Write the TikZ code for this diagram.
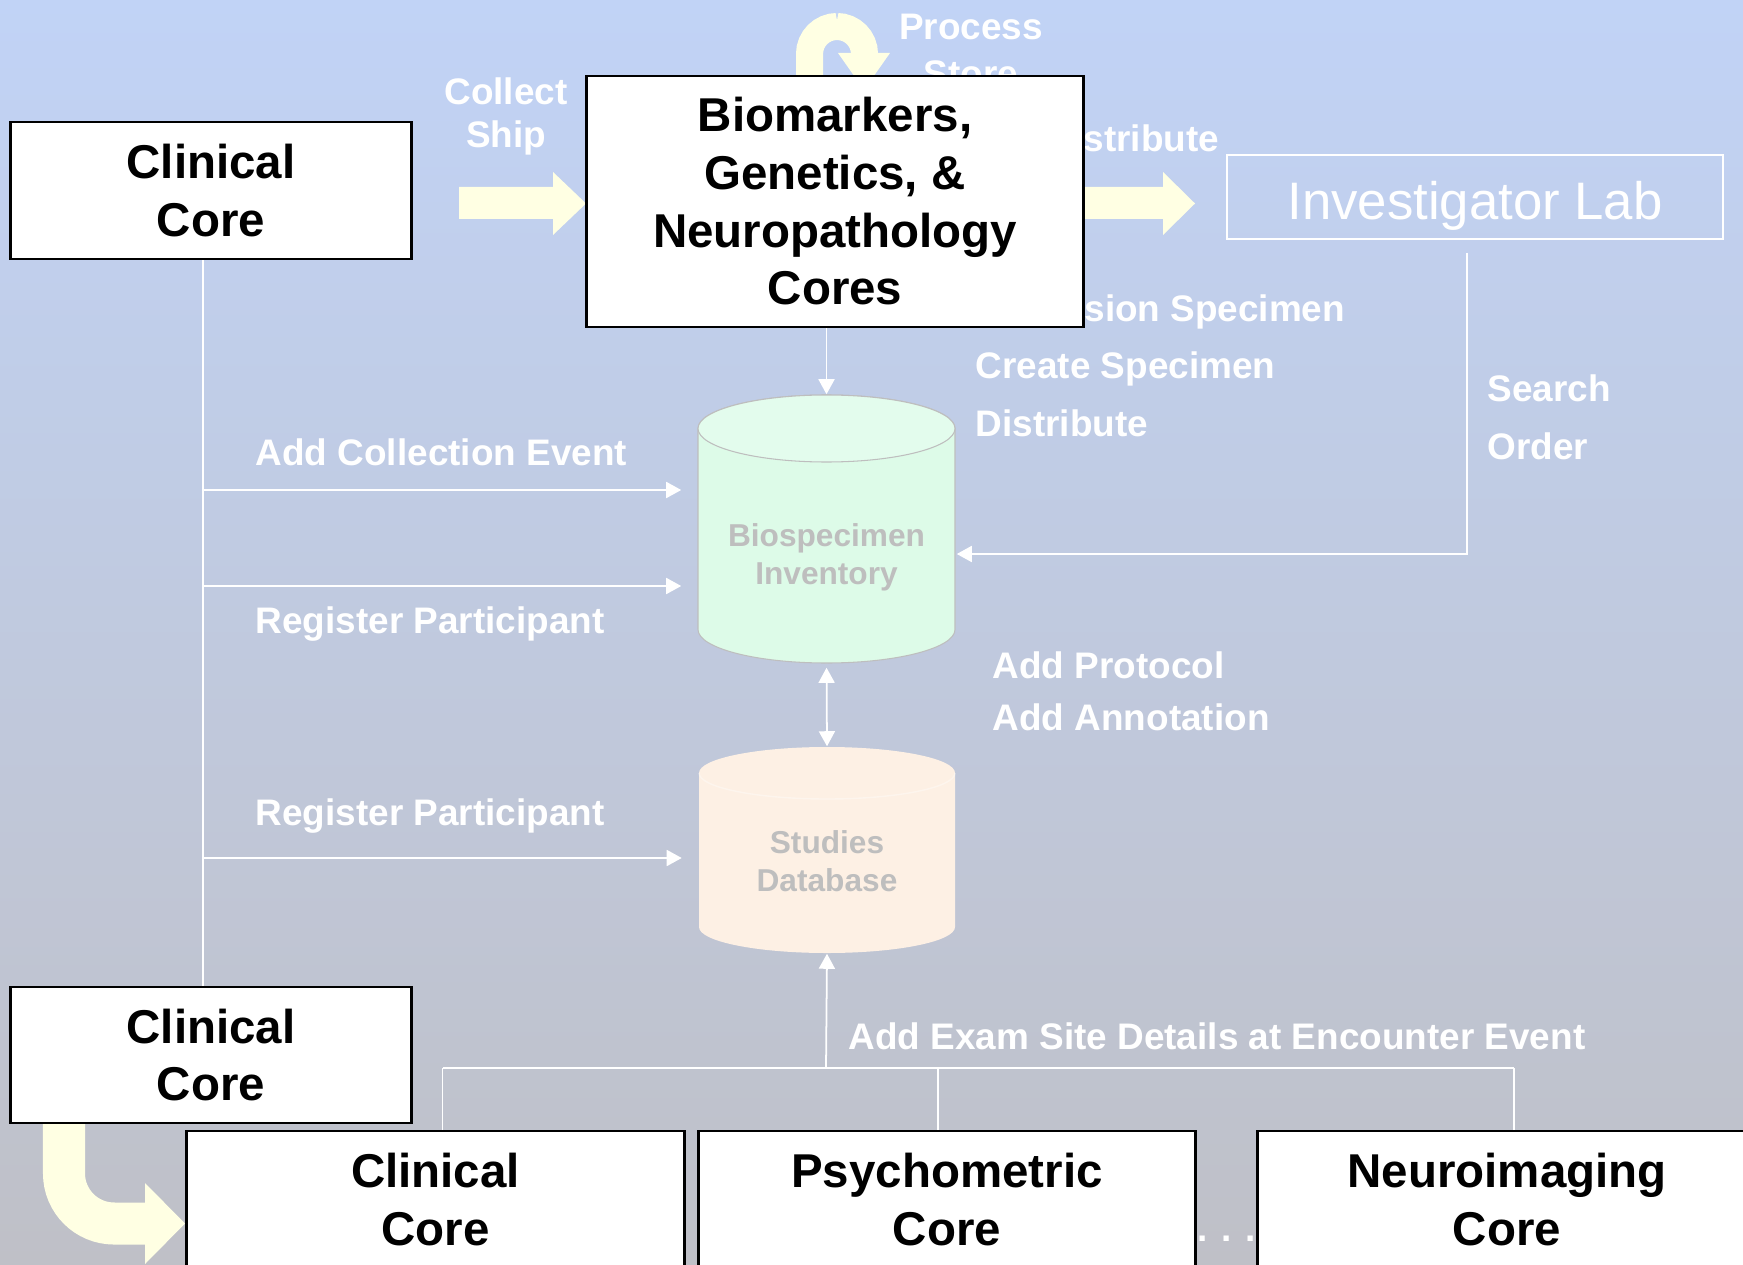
\documentclass[tikz,border=0pt]{standalone}
\usepackage{fontspec}
\setmainfont{Liberation Sans}
\usetikzlibrary{arrows.meta}
\definecolor{bgtop}{RGB}{193,211,246}
\definecolor{bgmid}{RGB}{191,201,231}
\definecolor{bgbot}{RGB}{191,192,199}
\definecolor{paleyellow}{RGB}{255,255,227}
\definecolor{mint}{RGB}{221,251,232}
\definecolor{minttop}{RGB}{227,252,237}
\definecolor{peach}{RGB}{253,240,228}
\definecolor{peachtop}{RGB}{254,243,234}
\definecolor{dbgray}{RGB}{190,190,190}
\tikzset{
    % Boxes
    core box/.style={draw=black,line width=0.8pt,fill=white,align=center,inner sep=0pt,
        font=\fontsize{13.5}{16.4}\selectfont\bfseries,minimum width=#1,minimum height=1.37cm},
    lab box/.style={draw=white,line width=0.6pt,text=white,inner sep=0pt,text height=12.6pt,text depth=0pt,
        minimum width=4.96cm,minimum height=0.84cm,font=\fontsize{15}{18}\selectfont},
    db box/.style={inner sep=0pt,minimum width=2.57cm,minimum height=#1},
    db text/.style={text=dbgray,align=center,font=\fontsize{9}{10.8}\selectfont\bfseries},
    %
    % Labels
    lbl/.style={text=white,inner sep=0pt,anchor=base west,font=\fontsize{10.5}{12.6}\selectfont\bfseries},
    %
    % Connectors
    arrow tip/.tip={Triangle[length=1.5mm,width=1.6mm]},
    wire/.style={white,line width=0.5pt},
    conn/.style={wire,-{arrow tip}},
    dconn/.style={wire,{arrow tip}-{arrow tip}},
    fat/.style={paleyellow}
}
\begin{document}
\begin{tikzpicture}[x=0.01cm,y=-0.01cm]
    \useasboundingbox (0,0) rectangle (1743,1264);
    \clip (0,0) rectangle (1743,1264);
    \shade[top color=bgtop,middle color=bgmid,bottom color=bgbot] (0,0) rectangle (1743,1264);

    % yellow block arrows
    \fill[fat] (459,187) -- (553,187) -- (553,172) -- (586,203.5) -- (553,235) -- (553,219) -- (459,219) -- cycle;
    \fill[fat] (1080,187) -- (1163,187) -- (1163,172) -- (1195,203.5) -- (1163,235) -- (1163,219) -- (1080,219) -- cycle;
    \draw[fat,line width=0.27cm,rounded corners=0.275cm] (809.5,95) -- (809.5,26.5) -- (864.5,26.5) -- (864.5,55);
    \fill[fat] (838,53) -- (890,53) -- (864,90) -- cycle;
    \draw[fat,line width=0.42cm,rounded corners=0.5cm] (64,1115) -- (64,1223.5) -- (147,1223.5);
    \fill[fat] (145,1183) -- (185,1223.5) -- (145,1264) -- cycle;

    % labels partly hidden behind the boxes
    \node[lbl,anchor=base] (process) at (971,40) {Process};
    \node[lbl,anchor=base] (store) at (971,87) {Store};
    \node[lbl] (distr top) at (1046,152) {Distribute};
    \node[lbl] (accession) at (975,322) {Accession Specimen};

    % boxes
    \node[core box=4cm] (clin1) at (211,190.5) {Clinical\\Core};
    \node[core box=4.96cm,minimum height=2.51cm] (biomark) at (835,201.5) {Biomarkers,\\Genetics, \&\\Neuropathology\\Cores};
    \node[lab box] (lab) at (1475,197) {Investigator Lab};
    \node[core box=4cm,minimum height=1.36cm] (clin2) at (211,1055) {Clinical\\Core};
    \node[core box=4.97cm] (clin3) at (435.5,1199.5) {Clinical\\Core};
    \node[core box=4.96cm] (psych) at (947,1199.5) {Psychometric\\Core};
    \node[core box=4.98cm] (neuro) at (1507,1199.5) {Neuroimaging\\Core};
    \node[lbl,anchor=base] (dots) at (1227,1241) {. . .};

    % databases
    \fill[mint,draw=dbgray,line width=0.3pt] (698,428.5) -- (698,629.5) arc[start angle=180,end angle=0,x radius=128.5,y radius=33.5]
        -- (955,428.5) arc[start angle=0,end angle=-180,x radius=128.5,y radius=33.5] -- cycle;
    \filldraw[fill=minttop,draw=dbgray,line width=0.3pt] (826.5,428.5) ellipse[x radius=128.5,y radius=33.5];
    \node[db box=2.68cm] (biodb) at (826.5,529) {};
    \node[db text] (biotext) at (826.5,557) {Biospecimen\\Inventory};

    \fill[peach] (699,773) -- (699,927) arc[start angle=180,end angle=0,x radius=128,y radius=26]
        -- (955,773) arc[start angle=0,end angle=-180,x radius=128,y radius=26] -- cycle;
    \draw[white,opacity=0.35,line width=0.4pt] (699,773) arc[start angle=180,end angle=0,x radius=128,y radius=26];
    \node[db box=2.06cm] (studb) at (827,850) {};
    \node[db text] (studtext) at (827,861) {Studies\\Database};

    % connectors
    \coordinate (spine top) at ([xshift=-0.08cm]clin1.south);
    \coordinate (spine bottom) at ([xshift=-0.08cm]clin2.north);
    \coordinate (ace) at (203,490);
    \coordinate (reg1) at (203,586);
    \coordinate (reg2) at (203,858);
    \draw[wire] (spine top) -- (spine bottom);
    \draw[conn,shorten >=0.16cm] (ace) -- (ace -| biodb.west);
    \draw[conn,shorten >=0.16cm] (reg1) -- (reg1 -| biodb.west);
    \draw[conn,shorten >=0.16cm] (reg2) -- (reg2 -| studb.west);
    \draw[conn] (biomark.south -| biodb.north) -- (biodb.north);
    \draw[dconn,shorten <=0.04cm] (biodb.south) -- (studb.north);
    \draw[conn] ([shift={(-8,13)}]lab.south) |- ([shift={(1,25)}]biodb.east);

    \coordinate (bus mid) at (826,1068);
    \coordinate (bus west) at (442.5,1068);
    \coordinate (bus psych) at (938,1068);
    \coordinate (bus east) at (1514,1068);
    \draw[conn] (bus mid) -- (studb.south);
    \draw[wire] (bus west) -- (bus east);
    \draw[wire] (bus west) -- (bus west |- clin3.north);
    \draw[wire] (bus psych) -- (bus psych |- psych.north);
    \draw[wire] (bus east) -- (bus east |- neuro.north);

    % labels
    \node[lbl,anchor=base] (collect) at (506,105) {Collect};
    \node[lbl,anchor=base] (ship) at (506,148) {Ship};
    \node[lbl] (create) at (975,378) {Create Specimen};
    \node[lbl] (distr) at (975,436) {Distribute};
    \node[lbl] (search) at (1487,402) {Search};
    \node[lbl] (order) at (1487,459) {Order};
    \node[lbl] (add event) at (255,465) {Add Collection Event};
    \node[lbl] (register one) at (255,633) {Register Participant};
    \node[lbl] (protocol) at (992,678) {Add Protocol};
    \node[lbl] (annotation) at (992,730) {Add Annotation};
    \node[lbl] (register two) at (255,825) {Register Participant};
    \node[lbl] (exam) at (848,1049) {Add Exam Site Details at Encounter Event};
\end{tikzpicture}
\end{document}
